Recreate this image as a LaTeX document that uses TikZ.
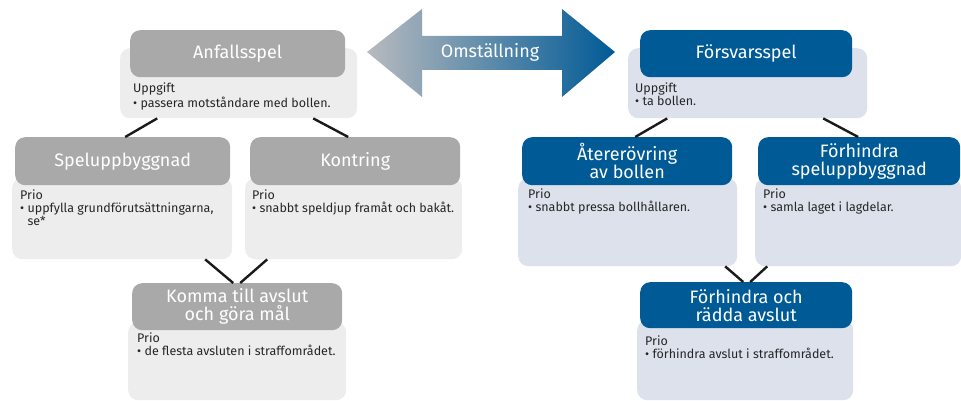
\documentclass[tikz,border=0pt]{standalone}
\usepackage{fontspec}
\setmainfont{Fira Sans}
\usetikzlibrary{calc}

\definecolor{headgray}{HTML}{A9A9A9}
\definecolor{bodygray}{HTML}{EDEDED}
\definecolor{headblue}{HTML}{005A96}
\definecolor{bodyblue}{HTML}{DCE1EC}
\definecolor{arrowgray}{HTML}{B8BABE}
\definecolor{txtgray}{HTML}{262626}
\definecolor{linkblack}{HTML}{1A1A1A}

\begin{document}
\begin{tikzpicture}[x = 1pt, y = -1pt,
	head/.style = {rounded corners = 10pt, anchor = north west, inner sep = 0pt, text = white, align = center, font = \fontsize{18}{18}\selectfont},
	grayhead/.style = {head, fill = headgray},
	bluehead/.style = {head, fill = headblue},
	body/.style = {rounded corners = 10pt, anchor = north west, inner sep = 0pt},
	graybody/.style = {body, fill = bodygray},
	bluebody/.style = {body, fill = bodyblue},
	txt/.style = {anchor = north west, inner sep = 0pt, align = left, text = txtgray, font = \fontsize{12.5}{12.8}\selectfont},
	link/.style = {line width = 2.4pt, draw = linkblack}]
	 \useasboundingbox (0, 0) rectangle (961, 401);

	 % omstallning arrow
	 \shade[left color = arrowgray, right color = headblue] (367, 52) -- (422, 9) -- (422, 36) -- (562, 36) -- (562, 9) -- (615, 52) -- (562, 97) -- (562, 70) -- (422, 70) -- (422, 97) -- cycle;
	 \node[text = white, font = \fontsize{18}{18}\selectfont] (shift) at (490, 52) {Omställning};

	 % anfallsspel side
	 \node[graybody, minimum width = 237pt, minimum height = 70pt] (anfbody) at (120, 48) {};
	 \node[grayhead, minimum width = 215pt, minimum height = 47pt] (anfhead) at (130, 30) {Anfallsspel};
	 \node[txt] (anftxt) at (133, 83) {Uppgift\\\textbullet\ passera motståndare med bollen.};

	 \node[graybody, minimum width = 220pt, minimum height = 81pt] (spelbody) at (12, 178) {};
	 \node[grayhead, minimum width = 215pt, minimum height = 48pt] (spelhead) at (15, 137) {Speluppbyggnad};
	 \node[txt] (speltxt) at (20, 190) {Prio\\\textbullet\ uppfylla grundförutsättningarna,\\\hphantom{\textbullet\ }se*};

	 \node[graybody, minimum width = 217pt, minimum height = 81pt] (kontbody) at (245, 178) {};
	 \node[grayhead, minimum width = 210pt, minimum height = 48pt] (konthead) at (250, 137) {Kontring};
	 \node[txt] (konttxt) at (252, 190) {Prio\\\textbullet\ snabbt speldjup framåt och bakåt.};

	 \node[graybody, minimum width = 218pt, minimum height = 78pt] (malbody) at (128, 322) {};
	 \node[grayhead, minimum width = 210pt, minimum height = 47pt] (malhead) at (132, 283) {Komma till avslut\\och göra mål};
	 \node[txt] (maltxt) at (137, 333) {Prio\\\textbullet\ de flesta avsluten i straffområdet.};

	 % forsvarsspel side
	 \node[bluebody, minimum width = 239pt, minimum height = 70pt] (forbody) at (628, 48) {};
	 \node[bluehead, minimum width = 212pt, minimum height = 47pt] (forhead) at (640, 30) {Försvarsspel};
	 \node[txt] (fortxt) at (635, 83) {Uppgift\\\textbullet\ ta bollen.};

	 \node[bluebody, minimum width = 219pt, minimum height = 88pt] (aterbody) at (518, 178) {};
	 \node[bluehead, minimum width = 210pt, minimum height = 48pt] (aterhead) at (522, 137) {Återerövring\\av bollen};
	 \node[txt] (atertxt) at (528, 189) {Prio\\\textbullet\ snabbt pressa bollhållaren.};

	 \node[bluebody, minimum width = 206pt, minimum height = 88pt] (hindbody) at (755, 178) {};
	 \node[bluehead, minimum width = 202pt, minimum height = 48pt] (hindhead) at (758, 137) {Förhindra\\speluppbyggnad};
	 \node[txt] (hindtxt) at (763, 189) {Prio\\\textbullet\ samla laget i lagdelar.};

	 \node[bluebody, minimum width = 216pt, minimum height = 80pt] (raddbody) at (637, 320) {};
	 \node[bluehead, minimum width = 212pt, minimum height = 46pt] (raddhead) at (640, 282) {Förhindra och\\rädda avslut};
	 \node[txt] (raddtxt) at (645, 336) {Prio\\\textbullet\ förhindra avslut i straffområdet.};

	 % links
	 \draw[link] ([xshift = -81.5pt]anfbody.south) -- ([xshift = 2.5pt]spelhead.north);
	 \draw[link] ([xshift = 74.5pt]anfbody.south) -- ([xshift = -7pt]konthead.north);
	 \draw[link] ([xshift = 83pt]spelbody.south) -- ([xshift = -4pt]malhead.north);
	 \draw[link] ([xshift = -86.5pt]kontbody.south) -- ([xshift = 3pt]malhead.north);

	 \draw[link] ([xshift = -80.5pt]forbody.south) -- ([xshift = 8pt]aterhead.north);
	 \draw[link] ([xshift = 75.5pt]forbody.south) -- ([xshift = -1pt]hindhead.north);
	 \draw[link] ([xshift = 97.5pt]aterbody.south) -- ([xshift = -3pt]raddhead.north);
	 \draw[link] ([xshift = -91pt]hindbody.south) -- ([xshift = 4pt]raddhead.north);
\end{tikzpicture}
\end{document}
